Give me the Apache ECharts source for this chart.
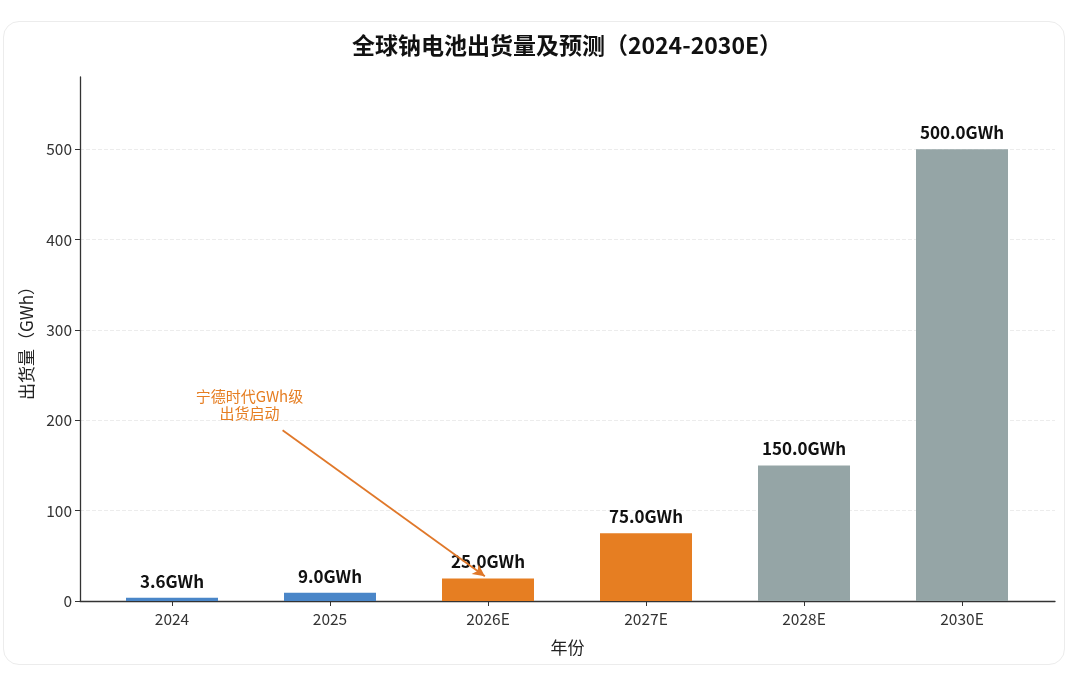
<!DOCTYPE html>
<html>
<head>
<meta charset="utf-8">
<script src="https://cdn.jsdelivr.net/npm/echarts@6/dist/echarts.min.js"></script>
<style>
  html, body { margin: 0; padding: 0; background: #fff; }
  #card {
    position: absolute; left: 3px; top: 21px; width: 1062px; height: 644px;
    border: 1px solid #ececec; border-radius: 16px; box-sizing: border-box;
  }
  #main { position: absolute; left: 0; top: 0; width: 1080px; height: 679px; }
</style>
</head>
<body>
<div id="card"></div>
<div id="main"></div>
<script>
// 数据
var years = ['2024', '2025', '2026E', '2027E', '2028E', '2030E'];
var shipments = [3.6, 9.0, 25.0, 75.0, 150.0, 500.0];
var barColors = ['#4a86c8', '#4a86c8', '#e67e22', '#e67e22', '#95a5a6', '#95a5a6'];
var yTicks = [0, 100, 200, 300, 400, 500];
var noteText = '宁德时代GWh级\n出货启动';
var noteAt = [0.49, 217];
var arrowFrom = [0.70, 189];
var arrowTo = [1.98, 27.5];

var font = '"Noto Sans CJK SC", "Noto Sans", sans-serif';
var myChart = echarts.init(document.getElementById('main'));

var option = {
  animation: false,
  textStyle: { fontFamily: font },
  title: {
    text: '全球钠电池出货量及预测（2024-2030E）',
    left: 562, top: 29, textAlign: 'center',
    textStyle: { fontSize: 23, fontWeight: 'bold', color: '#111', fontFamily: font }
  },
  grid: [
    // 坐标轴框
    { left: 80, right: 25, top: 77, bottom: 78 },
    // 柱子
    { left: 93, right: 39, top: 77, bottom: 78 }
  ],
  xAxis: [
    {
      gridIndex: 0, type: 'value', min: 0, max: 1,
      name: '年份', nameLocation: 'middle', nameGap: 38,
      nameTextStyle: { fontSize: 17, color: '#222' },
      axisLine: { show: true, onZero: false, lineStyle: { color: '#333', width: 1.3 } },
      axisTick: { show: false }, axisLabel: { show: false }, splitLine: { show: false }
    },
    {
      gridIndex: 1, type: 'category', data: years,
      axisLine: { show: false },
      axisTick: { show: true, alignWithLabel: true, length: 5, lineStyle: { color: '#333' } },
      axisLabel: { fontSize: 15.5, color: '#333', margin: 10 }
    },
    // 注释用的连续坐标（与类目带宽对齐）
    { gridIndex: 1, type: 'value', min: -0.5, max: 5.5, show: false }
  ],
  yAxis: [
    {
      gridIndex: 0, type: 'value', min: 0, max: 580, interval: 100,
      name: '出货量（GWh）', nameLocation: 'middle', nameGap: 45,
      nameTextStyle: { fontSize: 17, color: '#222' },
      axisLine: { show: true, lineStyle: { color: '#333', width: 1.3 } },
      axisTick: { show: true, length: 5, customValues: yTicks, lineStyle: { color: '#333' } },
      axisLabel: { fontSize: 15.5, color: '#333', margin: 8, customValues: yTicks },
      splitLine: { show: true, lineStyle: { color: '#ececec', type: 'dashed' } }
    },
    { gridIndex: 1, type: 'value', min: 0, max: 580, show: false }
  ],
  series: [
    {
      type: 'bar', xAxisIndex: 1, yAxisIndex: 1,
      barWidth: 92,
      data: shipments.map(function (v, i) {
        return { value: v, itemStyle: { color: barColors[i] } };
      }),
      label: {
        show: true, position: 'top', distance: 8,
        fontSize: 17, fontWeight: 'bold', color: '#111',
        formatter: function (p) { return p.value.toFixed(1) + 'GWh'; }
      }
    },
    {
      // 宁德时代注释箭头
      type: 'line', xAxisIndex: 2, yAxisIndex: 1, data: [],
      markLine: {
        silent: true, symbol: ['none', 'arrow'], symbolSize: [9, 12],
        label: { show: false },
        lineStyle: { color: '#e0782a', width: 1.8, type: 'solid' },
        data: [[{ coord: arrowFrom }, { coord: arrowTo }]]
      },
      markPoint: {
        silent: true, symbol: 'circle', symbolSize: 0,
        label: {
          show: true, position: 'inside', formatter: noteText,
          color: '#e67e22', fontSize: 15, lineHeight: 17, align: 'center'
        },
        data: [{ coord: noteAt }]
      }
    }
  ]
};

myChart.setOption(option);
</script>
</body>
</html>
